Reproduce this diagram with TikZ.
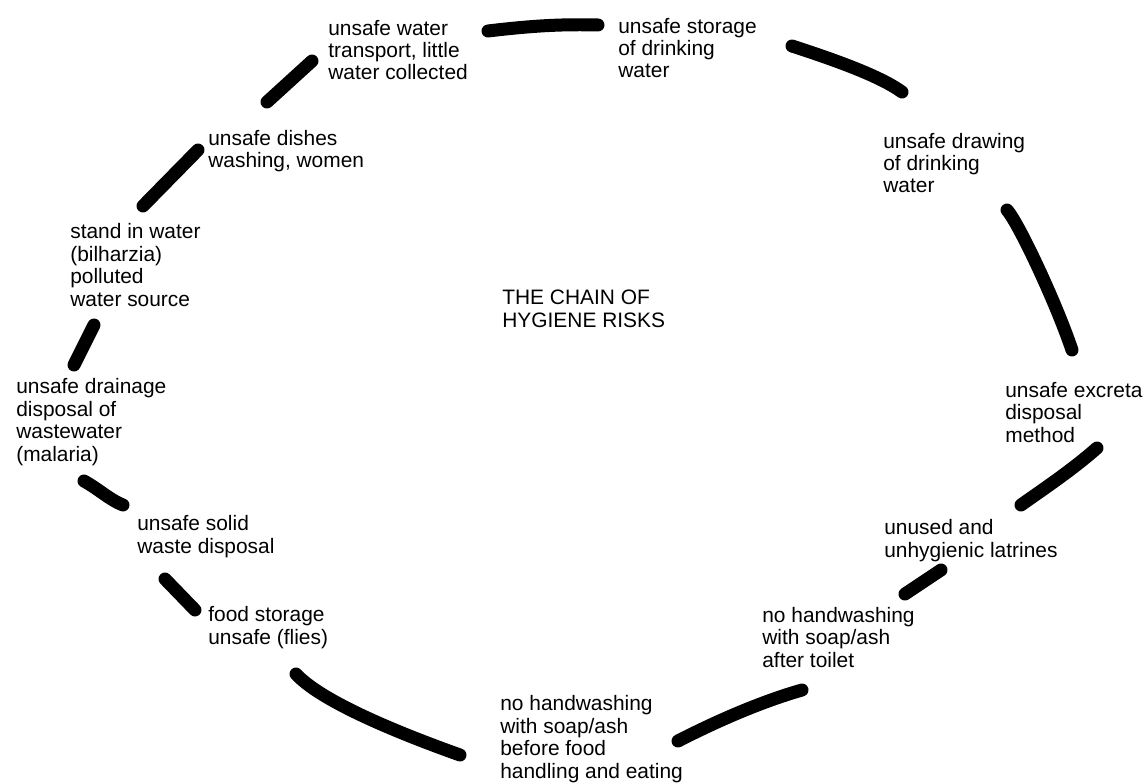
\documentclass[tikz,border=0pt]{standalone}
\usepackage{fontspec}
\setmainfont{Liberation Sans}
\tikzset{
	risk/.style={anchor=base west,align=left,inner sep=0pt,font=\fontsize{11.9}{12.8}\selectfont},
	link/.style={line width=0.26cm,line cap=round},
}
\begin{document}
\begin{tikzpicture}[x=0.02cm,y=-0.02cm]
	\useasboundingbox (0,0) rectangle (1147,784);
	% base of a multi-line node = its last line
	\node[risk] (transport) at (328,80) {unsafe water\\transport, little\\water collected};
	\node[risk] (storage) at (618,78) {unsafe storage\\of drinking\\water};
	\node[risk] (drawing) at (883,193) {unsafe drawing\\of drinking\\water};
	\node[risk] (excreta) at (1005,442) {unsafe excreta\\disposal\\method};
	\node[risk] (latrines) at (884,557) {unused and\\unhygienic latrines};
	\node[risk] (toilet) at (762,667) {no handwashing\\with soap/ash\\after toilet};
	\node[risk] (eating) at (500,778) {no handwashing\\with soap/ash\\before food\\handling and eating};
	\node[risk] (food) at (208,644) {food storage\\unsafe (flies)};
	\node[risk] (solid) at (137,553) {unsafe solid\\waste disposal};
	\node[risk] (drainage) at (16,461) {unsafe drainage\\disposal of\\wastewater\\(malaria)};
	\node[risk] (stand) at (70,306) {stand in water\\(bilharzia)\\polluted\\water source};
	\node[risk] (dishes) at (208,168) {unsafe dishes\\washing, women};
%	\node[risk] (title) at (502,303) {THE CHAIN OF\\HYGIENE RISKS};
	\node[risk] (title) at (502,327) {THE CHAIN OF\\HYGIENE RISKS};
%%%%%%%%%%%%%%%%%%%%%%%%%%%%%%%%%%%%%%%%%%%%%%%%%%%%%%%%%%%%
	\coordinate (A1) at (267,102);
	\coordinate (A2) at (312,61);
	\coordinate (B1) at (488,31);
	\coordinate (B2) at (598,25);
	\coordinate (C1) at (792,46);
	\coordinate (C2) at (902,92);
	\coordinate (D1) at (1007,210);
	\coordinate (D2) at (1072,350);
	\coordinate (E1) at (1097,448);
	\coordinate (E2) at (1021,505);
	\coordinate (F1) at (941,570);
	\coordinate (F2) at (905,594);
	\coordinate (G1) at (802,690);
	\coordinate (G2) at (678,741);
	\coordinate (H1) at (460,755);
	\coordinate (H2) at (296,674);
	\coordinate (I1) at (195,610);
	\coordinate (I2) at (165,579);
	\coordinate (J1) at (123,505);
	\coordinate (J2) at (84,481);
	\coordinate (K1) at (74,365);
	\coordinate (K2) at (94,325);
	\coordinate (L1) at (143,206);
	\coordinate (L2) at (198,150);
%%%%%%%%%%%%%%%%%%%%%%%%%%%%%%%%%%%%%%%%%%%%%%%%%%%%%%%%%%%%
	\draw[link] (A1) -- (A2);
	\draw[link] (B1) .. controls (530,26) and (560,24) .. (B2);
	\draw[link] (C1) .. controls (835,60) and (880,76) .. (C2);
	\draw[link] (D1) .. controls (1018,222) and (1055,300) .. (D2);
	\draw[link] (E1) .. controls (1072,470) and (1045,488) .. (E2);
	\draw[link] (F1) -- (F2);
	\draw[link] (G1) .. controls (760,702) and (715,722) .. (G2);
	\draw[link] (H2) .. controls (320,700) and (390,730) .. (H1);
	\draw[link] (I2) -- (I1);
	\draw[link] (J2) .. controls (100,490) and (110,500) .. (J1);
	\draw[link] (K1) -- (K2);
	\draw[link] (L1) -- (L2);
\end{tikzpicture}
\end{document}
